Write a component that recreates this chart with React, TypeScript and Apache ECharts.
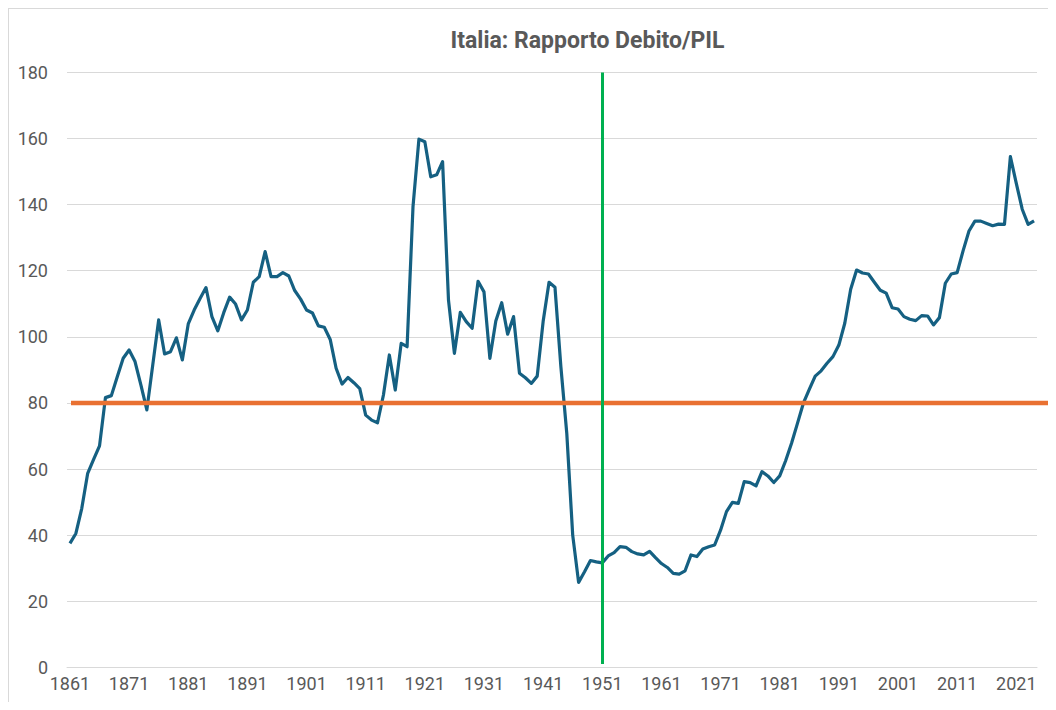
import React, { useEffect, useRef } from "react";
import * as echarts from "echarts";

const firstYear = 1861;
const lastYear = 2024;
const years: string[] = [];
for (let y = firstYear; y <= lastYear; y++) years.push(String(y));

// Rapporto debito/PIL (%), 1861-2024
const debtRatio: number[] = [
  37.5, 40.5, 48.1, 58.7, 62.9, 67.0, 81.6, 82.2, 87.9, 93.5,
  96.0, 92.5, 85.4, 77.9, 91.5, 105.1, 94.8, 95.5, 99.7, 93.0,
  103.9, 108.1, 111.6, 114.9, 106.1, 101.8, 107.3, 112.0, 109.9, 105.1,
  108.1, 116.5, 118.2, 125.8, 118.2, 118.2, 119.4, 118.4, 114.0, 111.4,
  108.1, 107.2, 103.3, 102.9, 99.2, 90.5, 85.7, 87.7, 86.1, 84.3,
  76.3, 74.8, 74.0, 82.4, 94.5, 83.9, 98.0, 97.0, 139.4, 159.8,
  159.0, 148.4, 149.0, 153.0, 111.1, 95.0, 107.4, 104.6, 102.6, 116.8,
  113.6, 93.5, 104.8, 110.3, 100.8, 106.1, 89.0, 87.6, 85.9, 88.1,
  104.6, 116.5, 115.0, 91.0, 70.8, 40.0, 25.7, 28.9, 32.3, 31.9,
  31.6, 33.7, 34.7, 36.5, 36.3, 35.0, 34.3, 34.0, 35.1, 33.2,
  31.4, 30.2, 28.4, 28.2, 29.2, 34.0, 33.5, 35.8, 36.5, 37.0,
  41.5, 47.1, 49.9, 49.6, 56.2, 55.9, 54.9, 59.2, 57.9, 55.9,
  57.9, 62.5, 67.8, 73.8, 79.9, 84.1, 88.1, 89.7, 92.0, 94.0,
  97.5, 104.1, 114.4, 120.2, 119.3, 119.0, 116.5, 114.1, 113.2, 108.8,
  108.4, 106.1, 105.3, 104.9, 106.4, 106.3, 103.6, 105.8, 116.2, 119.0,
  119.4, 126.0, 132.0, 135.0, 135.0, 134.3, 133.6, 134.1, 134.0, 154.5,
  146.4, 138.6, 134.0, 135.1,
];

const thresholdValue = 80;
const markerYear = "1951";
const markerRange = [1, 180];
const yMin = 0;
const yMax = 180;
const yStep = 20;
const titleText = "Italia: Rapporto Debito/PIL";

const FONT = "Roboto, 'Noto Sans', sans-serif";
const GREY = "#595959";

export default function App() {
  const ref = useRef<HTMLDivElement>(null);
  useEffect(() => {
    if (!ref.current) return;
    const chart = echarts.init(ref.current, undefined, { renderer: "svg" });
    chart.setOption({
      animation: false,
      backgroundColor: "#ffffff",
      textStyle: { fontFamily: FONT },
      graphic: [
        {
          type: "text",
          x: 578.5,
          y: 20,
          style: {
            text: titleText,
            fill: GREY,
            font: `bold 23px ${FONT}`,
            textAlign: "center",
            textVerticalAlign: "top",
          },
        },
      ],
      grid: [
        { left: 58, right: 19, top: 63.4, bottom: 34.7 },
        { left: 62, right: 4.3, top: 63.4, bottom: 34.7 },
      ],
      xAxis: [
        {
          type: "category",
          gridIndex: 0,
          data: years,
          boundaryGap: true,
          axisLine: { show: true, lineStyle: { color: "#d9d9d9", width: 1 } },
          axisTick: { show: false },
          axisLabel: {
            interval: 9,
            color: GREY,
            fontSize: 18,
            fontFamily: FONT,
            margin: 7,
          },
          splitLine: { show: false },
        },
        {
          type: "value",
          gridIndex: 1,
          min: 0,
          max: 1,
          show: false,
        },
      ],
      yAxis: [
        {
          type: "value",
          gridIndex: 0,
          min: yMin,
          max: yMax,
          interval: yStep,
          axisLine: { show: false },
          axisTick: { show: false },
          axisLabel: { color: GREY, fontSize: 18, fontFamily: FONT, margin: 19 },
          splitLine: { show: true, lineStyle: { color: "#d9d9d9", width: 1 } },
        },
        {
          type: "value",
          gridIndex: 1,
          min: yMin,
          max: yMax,
          show: false,
        },
      ],
      series: [
        {
          name: "Debito/PIL",
          type: "line",
          xAxisIndex: 0,
          yAxisIndex: 0,
          data: debtRatio,
          showSymbol: false,
          symbol: "none",
          lineStyle: { color: "#156082", width: 3.2, join: "round" },
          z: 2,
        },
        {
          name: "Soglia",
          type: "line",
          xAxisIndex: 1,
          yAxisIndex: 1,
          data: [
            [0, thresholdValue],
            [1, thresholdValue],
          ],
          showSymbol: false,
          symbol: "none",
          lineStyle: { color: "#E97132", width: 4.5 },
          z: 3,
        },
        {
          name: "1951",
          type: "line",
          xAxisIndex: 0,
          yAxisIndex: 0,
          data: [],
          showSymbol: false,
          markLine: {
            silent: true,
            symbol: ["none", "none"],
            label: { show: false },
            lineStyle: { color: "#00B050", width: 3, type: "solid", opacity: 1 },
            emphasis: { disabled: true },
            data: [
              [
                { coord: [markerYear, markerRange[1]] },
                { coord: [markerYear, markerRange[0]] },
              ],
            ],
          },
          z: 4,
        },
      ],
    });
    return () => chart.dispose();
  }, []);

  return (
    <div
      style={{
        width: 1048,
        height: 694,
        boxSizing: "border-box",
        borderLeft: "1px solid #d9d9d9",
        borderTop: "1px solid #d9d9d9",
        background: "#fff",
      }}
    >
      <div ref={ref} style={{ width: 1047, height: 693 }} />
    </div>
  );
}
